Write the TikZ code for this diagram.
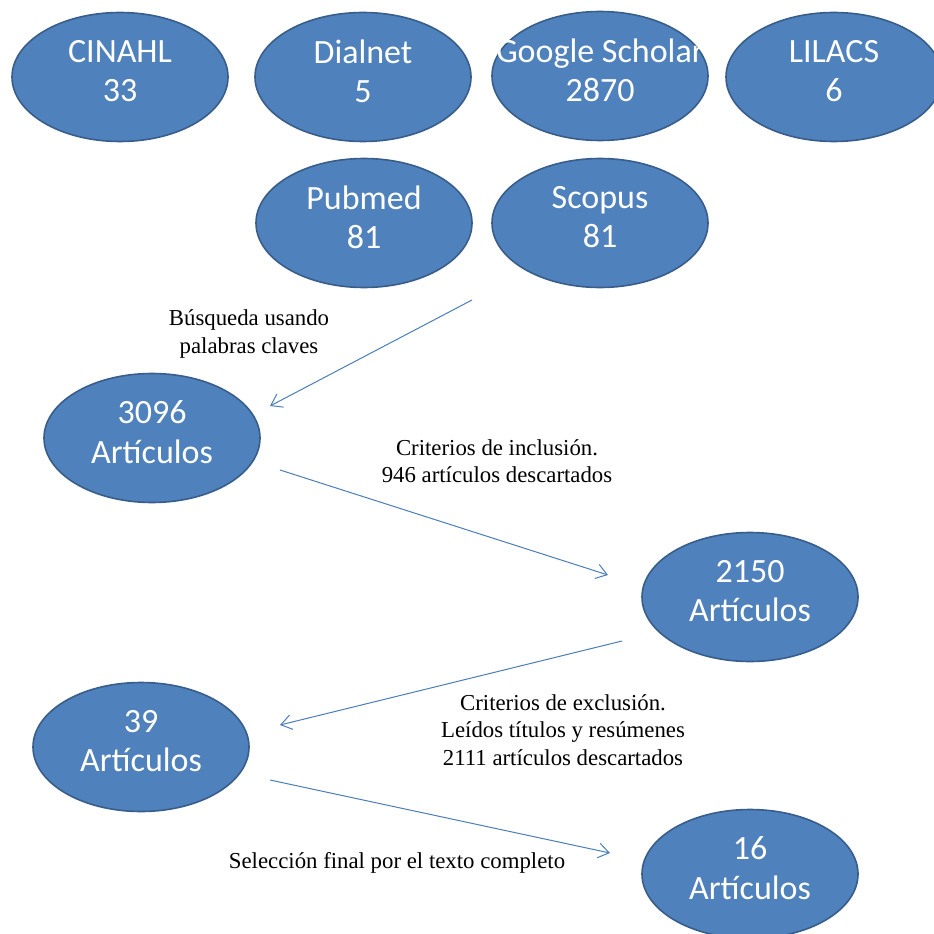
\documentclass[tikz,border=0pt]{standalone}
\usepackage{fontspec}
\setmainfont{Liberation Serif}
\newfontfamily\dbfont{Carlito}
\usetikzlibrary{shapes.geometric,arrows.meta}
\definecolor{dbfill}{HTML}{4F81BD}
\definecolor{dbline}{HTML}{385D8A}
\definecolor{flowline}{HTML}{4A7EBB}

\begin{document}
\begin{tikzpicture}
        [x=0.75pt, y=-0.75pt,
        db/.style={ellipse, draw=dbline, fill=dbfill, line width=1.2pt,
            minimum width=162pt, minimum height=96.75pt,
            inner xsep=-50pt, inner ysep=0pt, text depth=9pt,
            text=white, align=center,
            font=\dbfont\fontsize{25.5}{29.5}\selectfont},
        note/.style={align=center, font=\fontsize{17.1}{20.6}\selectfont},
        flow/.style={draw=flowline, line width=0.75pt,
            -{Straight Barb[length=8pt,width=11pt]}}]

        \useasboundingbox (0,0) rectangle (933,934);

        \node[db] (cinahl)  at (120,77)  {CINAHL\\33};
        \node[db] (dialnet) at (363,77)  {Dialnet\\5};
        \node[db] (scholar) at (600,76)  {Google Scholar\\2870};
        \node[db] (lilacs)  at (834,77)  {LILACS\\6};
        \node[db] (pubmed)  at (364,223) {Pubmed\\81};
        \node[db] (scopus)  at (600,223) {Scopus\\81};

        \node[db] (found)    at (152,438) {3096\\Artículos};
        \node[db] (included) at (750,597) {2150\\Artículos};
        \node[db] (screened) at (141,747) {39\\Artículos};
        \node[db] (selected) at (750,874) {16\\Artículos};

        \node[note] (search) at (249,334) {Búsqueda usando\\palabras claves};
        \node[note] (incl)   at (497,461) {Criterios de inclusión.\\946 artículos descartados};
        \node[note] (excl)   at (563,730) {Criterios de exclusión.\\Leídos títulos y resúmenes\\2111 artículos descartados};
        \node[note] (final)  at (397,863) {Selección final por el texto completo};

        \draw[flow] ([shift={(-128,77)}]scopus.center) -- ([shift={(118,-32)}]found.center);
        \draw[flow] ([shift={(128,32)}]found.center) -- ([shift={(-142,-22)}]included.center);
        \draw[flow] ([shift={(-128,44)}]included.center) -- ([shift={(139,-22)}]screened.center);
        \draw[flow] ([shift={(129,33)}]screened.center) -- ([shift={(-140,-21)}]selected.center);

    \end{tikzpicture}
\end{document}
